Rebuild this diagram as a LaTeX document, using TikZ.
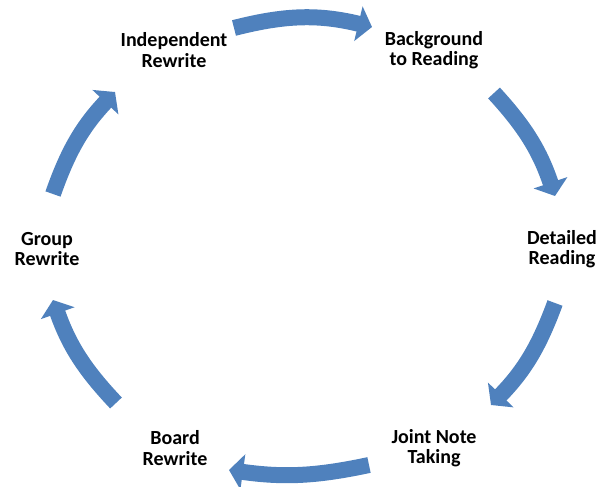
\documentclass[tikz,border=0pt]{standalone}
\usepackage{fontspec}
\setmainfont{Carlito}
\usetikzlibrary{arrows.meta}
\definecolor{cyc}{RGB}{79,129,189}
\begin{document}
\begin{tikzpicture}[x=1pt,y=-1pt,
  lbl/.style={font=\bfseries\fontsize{20}{20.5}\selectfont, align=center, text=black, inner sep=0pt},
  cycarrow/.style={draw=cyc, line width=16pt, -{Triangle[width=35pt,length=14pt]}}]
\useasboundingbox (0,0) rectangle (600,487);
\node[lbl] (ind) at (174,50) {Independent\\Rewrite};
\node[lbl] (bg) at (434,50) {Background\\to Reading};
\node[lbl] (det) at (562,249) {Detailed\\Reading};
\node[lbl] (joint) at (434,448) {Joint Note\\Taking};
\node[lbl] (board) at (175,448) {Board\\Rewrite};
\node[lbl] (grp) at (47,249) {Group\\Rewrite};
\coordinate (a1s) at (234,28);  \coordinate (a1e) at (372,27);
\coordinate (a2s) at (494,93);  \coordinate (a2e) at (555,196);
\coordinate (a3s) at (555,303); \coordinate (a3e) at (491,405);
\coordinate (a4s) at (369,465); \coordinate (a4e) at (229,470);
\coordinate (a5s) at (116,403); \coordinate (a5e) at (53,300);
\coordinate (a6s) at (53,194);  \coordinate (a6e) at (115,92);
\draw[cycarrow] (a1s) to[bend left=14] (a1e);
\draw[cycarrow] (a2s) to[bend left=12] (a2e);
\draw[cycarrow] (a3s) to[bend left=12] (a3e);
\draw[cycarrow] (a4s) to[bend left=10] (a4e);
\draw[cycarrow] (a5s) to[bend left=12] (a5e);
\draw[cycarrow] (a6s) to[bend left=12] (a6e);
\end{tikzpicture}
\end{document}
